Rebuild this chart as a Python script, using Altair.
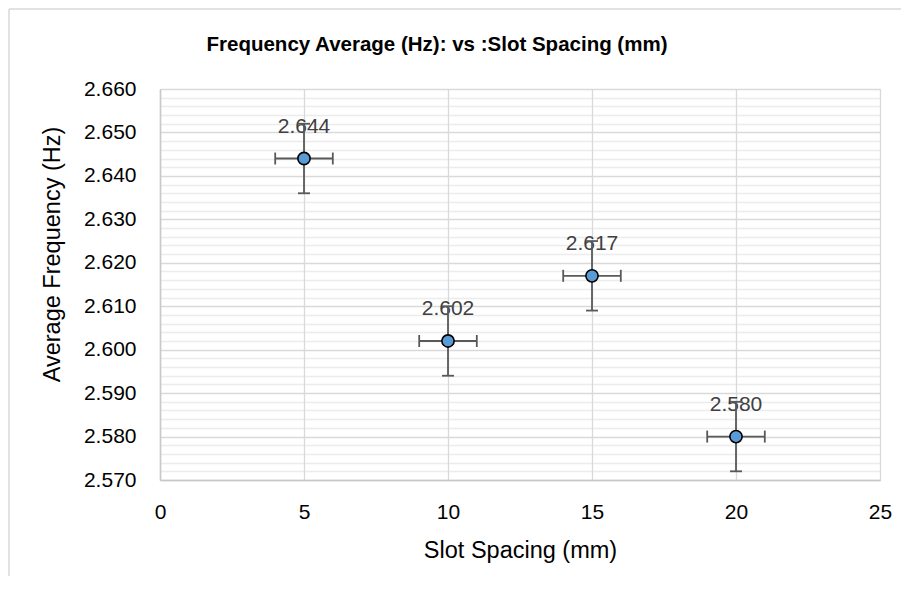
import altair as alt
import pandas as pd

# Data
slot_spacing = [5, 10, 15, 20]
avg_freq = [2.644, 2.602, 2.617, 2.580]
freq_err = [0.008, 0.008, 0.008, 0.008]
spacing_err = [1, 1, 1, 1]
labels = ["2.644", "2.602", "2.617", "2.580"]

x_ticks = [0, 5, 10, 15, 20, 25]
y_ticks = [round(v / 1000, 3) for v in range(2570, 2661, 2)]

title_text = "Frequency Average (Hz): vs :Slot Spacing (mm)"
x_title = "Slot Spacing (mm)"
y_title = "Average Frequency (Hz)"

df = pd.DataFrame({
    "x": slot_spacing,
    "y": avg_freq,
    "label": labels,
})
df["ymin"] = [a - e for a, e in zip(avg_freq, freq_err)]
df["ymax"] = [a + e for a, e in zip(avg_freq, freq_err)]
df["xmin"] = [a - e for a, e in zip(slot_spacing, spacing_err)]
df["xmax"] = [a + e for a, e in zip(slot_spacing, spacing_err)]

FONT = "Liberation Sans"
W, H = 720, 391

x_scale = alt.Scale(domain=[0, 25], nice=False, zero=False)
y_scale = alt.Scale(domain=[2.570, 2.660], nice=False, zero=False)

MAJOR = "abs(round(datum.value*1000) % 10) < 0.5"

x_axis = alt.Axis(
    values=x_ticks, tickCount=20, title=x_title, grid=True, gridColor="#d9d9d9", gridWidth=1.3,
    domainColor="#c8c8c8", domainWidth=1.5, ticks=False, tickSize=0,
    labelFont=FONT, labelFontSize=21, labelColor="#000000", labelOverlap=False,
    labelBaseline="middle", labelPadding=32, labelFlush=False,
    titleFont=FONT, titleFontSize=23.5, titleFontWeight="normal", titleColor="#000000",
    titleX=W / 2, titleY=70, titleBaseline="middle", titleAnchor="middle",
)
y_axis = alt.Axis(
    values=y_ticks, tickCount=100, title=y_title, grid=True,
    gridColor={"condition": {"test": MAJOR, "value": "#d9d9d9"}, "value": "rgba(217,217,217,0.5)"},
    gridWidth=1.3,
    domainColor="#c8c8c8", domainWidth=1.5, ticks=False, tickSize=0,
    labelExpr=MAJOR + " ? format(datum.value, '.3f') : ''",
    labelOverlap=False, labelFlush=False,
    labelFont=FONT, labelFontSize=21, labelColor="#000000", labelPadding=24,
    labelBaseline="middle",
    titleFont=FONT, titleFontSize=23.5, titleFontWeight="normal", titleColor="#000000",
    titleAngle=-90, titleX=-108, titleY=165, titleBaseline="middle", titleAlign="center",
)

base = alt.Chart(df)

pts_axes = base.mark_point(filled=True, opacity=1).encode(
    x=alt.X("x:Q", scale=x_scale, axis=x_axis),
    y=alt.Y("y:Q", scale=y_scale, axis=y_axis),
)

text = base.mark_text(
    font=FONT, fontSize=21, color="#404040", align="center", baseline="middle", dy=-31.5
).encode(x=alt.X("x:Q", scale=x_scale), y=alt.Y("y:Q", scale=y_scale), text="label:N")

ebar_col = "#595959"
vrule = base.mark_rule(color=ebar_col, strokeWidth=1.8).encode(
    x="x:Q", y="ymin:Q", y2="ymax:Q")
hrule = base.mark_rule(color=ebar_col, strokeWidth=1.8).encode(
    y="y:Q", x="xmin:Q", x2="xmax:Q")
cap_lo = base.mark_tick(color=ebar_col, orient="horizontal", size=12, thickness=1.8, opacity=1).encode(
    x="x:Q", y="ymin:Q")
cap_hi = base.mark_tick(color=ebar_col, orient="horizontal", size=12, thickness=1.8, opacity=1).encode(
    x="x:Q", y="ymax:Q")
cap_l = base.mark_tick(color=ebar_col, orient="vertical", size=12, thickness=1.8, opacity=1).encode(
    x="xmin:Q", y="y:Q")
cap_r = base.mark_tick(color=ebar_col, orient="vertical", size=12, thickness=1.8, opacity=1).encode(
    x="xmax:Q", y="y:Q")

points = base.mark_point(
    filled=True, fill="#5b9bd5", stroke="#000000", strokeWidth=1.6, size=150, opacity=1, shape="circle"
).encode(x="x:Q", y="y:Q")

deco = alt.Chart(pd.DataFrame({"t": [title_text]}))
title = deco.mark_text(
    font=FONT, fontSize=20.5, fontWeight="bold", color="#000000", align="center", baseline="middle"
).encode(x=alt.value(277), y=alt.value(-44), text="t:N")
border_top = deco.mark_rule(color="#d9d9d9", strokeWidth=1.5, clip=False).encode(
    x=alt.value(-151), x2=alt.value(741), y=alt.value(-80))
border_left = deco.mark_rule(color="#d9d9d9", strokeWidth=1.5, clip=False).encode(
    x=alt.value(-151), y=alt.value(-80), y2=alt.value(490))

chart = alt.layer(
    pts_axes, text, vrule, hrule, cap_lo, cap_hi, cap_l, cap_r, points, title, border_top, border_left
).properties(
    width=W, height=H,
    autosize=alt.AutoSizeParams(type="none"),
    padding={"left": 152, "top": 81, "right": 21, "bottom": 96},
).configure_view(stroke="#d9d9d9", strokeWidth=1.3).configure(background="white")

chart.save("out.html", embed_options={"renderer": "svg", "actions": False})
